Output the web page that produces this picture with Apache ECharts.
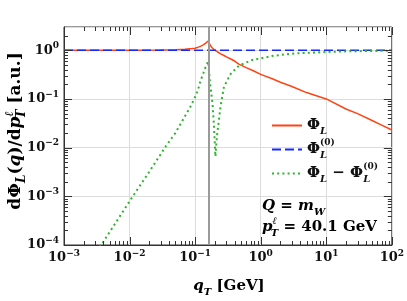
<!DOCTYPE html>
<html>
<head>
<meta charset="utf-8">
<script src="https://cdn.jsdelivr.net/npm/echarts@6/dist/echarts.min.js"></script>
<style>html,body{margin:0;padding:0;background:#fff}#c{width:407px;height:301px}</style>
</head>
<body>
<div id="c"></div>
<script>
// ---- data ----
const qL   = [0.001, 0.01, 0.03, 0.05, 0.07, 0.09, 0.1, 0.115, 0.125, 0.135, 0.145, 0.152, 0.158, 0.163, 0.17, 0.18, 0.19, 0.2, 0.22, 0.25, 0.275, 0.3, 0.35, 0.4, 0.465, 0.6, 0.8, 1.0, 1.5, 2, 3, 5, 10, 20, 30, 50, 70, 100];
const phiL = [1.0, 1.001, 1.008, 1.02, 1.045, 1.08, 1.1, 1.17, 1.23, 1.3, 1.4, 1.47, 1.55, 1.42, 1.27, 1.14, 1.06, 1.0, 0.92, 0.83, 0.78, 0.73, 0.66, 0.6, 0.52, 0.44, 0.37, 0.32, 0.26, 0.22, 0.18, 0.135, 0.1, 0.062, 0.05, 0.036, 0.029, 0.023];
const q0   = [0.001, 100];
const phi0 = [1, 1];
const qD   = [0.0035, 0.0037, 0.0112, 0.02, 0.036, 0.05, 0.068, 0.085, 0.097, 0.11, 0.122, 0.135, 0.145, 0.158, 0.169, 0.184, 0.194, 0.204, 0.215, 0.244, 0.275, 0.35, 0.465, 0.6, 0.74, 1.0, 1.48, 2, 3.3, 5, 8.5, 15, 27, 50, 100];
const diff = [0.00009, 0.0001, 0.001, 0.0032, 0.0108, 0.02, 0.041, 0.07, 0.1, 0.15, 0.244, 0.35, 0.46, 0.59, 0.21, 0.081, 0.027, 0.0066, 0.017, 0.07, 0.178, 0.33, 0.48, 0.56, 0.63, 0.68, 0.76, 0.8, 0.86, 0.88, 0.91, 0.94, 0.955, 0.965, 0.977];
const qMark = 0.158;
const xRange = [1e-3, 100];
const yRange = [1e-4, 3];
const xTicks = [];
for (let n = -3; n <= 1; n++) for (let k = 1; k <= 9; k++) xTicks.push(k * Math.pow(10, n));
xTicks.push(100);
const yTicks = [];
for (let n = -4; n <= 0; n++) for (let k = 1; k <= 9; k++) { const v = k * Math.pow(10, n); if (v < 3) yTicks.push(v); }
const names = ['\u03a6_L', '\u03a6_L^(0)', '\u03a6_L \u2212 \u03a6_L^(0)'];

const F = 'DejaVu Serif';
const C = '#111';
const tickRich = {
  n: {fontFamily: F, fontWeight: 'bold', fontSize: 13, lineHeight: 18, color: C},
  e: {fontFamily: F, fontWeight: 'bold', fontSize: 9, lineHeight: 10, verticalAlign: 'top', color: C}
};
function isDecade(v) { const l = Math.log10(v); return Math.abs(l - Math.round(l)) < 1e-9; }
function powLabel(v) {
  if (!isDecade(v)) return '';
  const e = Math.round(Math.log10(v));
  return '{n|10}{e|' + (e < 0 ? '\u2212' + (-e) : e) + '}';
}
function mkRich(s) {
  const b = {fontFamily: F, fontWeight: 'bold', color: C};
  return {
    r: Object.assign({fontSize: s, lineHeight: s + 7}, b),
    i: Object.assign({fontStyle: 'italic', fontSize: s, lineHeight: s + 7}, b),
    sub: Object.assign({fontStyle: 'italic', fontSize: Math.round(s * 0.68), lineHeight: 12, verticalAlign: 'bottom'}, b),
    subs: Object.assign({fontStyle: 'italic', fontSize: Math.round(s * 0.68), lineHeight: 12, verticalAlign: 'bottom', padding: [0, 0, 0, -Math.round(s * 0.4)]}, b),
    sup: Object.assign({fontStyle: 'italic', fontSize: Math.round(s * 0.68), lineHeight: 12, verticalAlign: 'top'}, b),
    supr: Object.assign({fontSize: Math.round(s * 0.6), lineHeight: 12, verticalAlign: 'top', padding: [0, 0, 0, -7]}, b)
  };
}
const textRich = mkRich(15);
const titleRich = mkRich(17);
const legendText = {};
legendText[names[0]] = '{r|\u03a6}{sub|L}';
legendText[names[1]] = '{r|\u03a6}{sub|L}{supr|(0)}';
legendText[names[2]] = '{r|\u03a6}{sub|L}{r| \u2212 \u03a6}{sub|L}{supr|(0)}';

const texts = [
  {type: 'text', x: 16, y: 131, rotation: Math.PI / 2,
   style: {text: '{r|d\u03a6}{sub|L}{r|(}{i|q}{r|)/d}{i|p}{sup|\u2113}{subs|T}{r| [a.u.]}', rich: titleRich, align: 'center', verticalAlign: 'middle'}},
  {type: 'text', x: 229, y: 286,
   style: {text: '{i|q}{sub|T}{r| [GeV]}', rich: textRich, align: 'center', verticalAlign: 'middle'}},
  {type: 'text', x: 262, y: 206,
   style: {text: '{i|Q}{r| = }{i|m}{sub|W}', rich: textRich, align: 'left', verticalAlign: 'middle'}},
  {type: 'text', x: 262, y: 227,
   style: {text: '{i|p}{sup|\u2113}{subs|T}{r| = 40.1 GeV}', rich: textRich, align: 'left', verticalAlign: 'middle'}}
];

const chart = echarts.init(document.getElementById('c'));
chart.setOption({
  animation: false,
  backgroundColor: '#fff',
  grid: {left: 64, right: 14, top: 27, bottom: 56, show: true, borderColor: '#333', borderWidth: 1, backgroundColor: 'transparent'},
  xAxis: [{
    type: 'log', min: xRange[0], max: xRange[1], position: 'bottom',
    axisLine: {show: true, lineStyle: {color: '#333', width: 1}},
    axisTick: {show: false},
    axisLabel: {show: true, formatter: powLabel, rich: tickRich, margin: 4},
    splitLine: {show: true, lineStyle: {color: '#dcdcdc', width: 1}}
  }],
  yAxis: [{
    type: 'log', min: yRange[0], max: yRange[1], position: 'left',
    axisLine: {show: true, lineStyle: {color: '#333', width: 1}},
    axisTick: {show: false},
    axisLabel: {show: true, formatter: powLabel, rich: tickRich, margin: 5, showMaxLabel: false},
    splitLine: {show: true, lineStyle: {color: '#dcdcdc', width: 1}}
  }],
  legend: {
    data: names, orient: 'vertical', left: 266, top: 113, itemWidth: 30, itemHeight: 12, itemGap: 2,
    selectedMode: false, itemStyle: {opacity: 0},
    formatter: n => legendText[n],
    textStyle: {rich: textRich}
  },
  graphic: texts,
  series: [
    {name: names[0], type: 'line', showSymbol: false, symbol: 'none',
     lineStyle: {color: '#ff4314', width: 1.5}, itemStyle: {color: '#ff4314'},
     data: qL.map((q, i) => [q, phiL[i]]),
     markLine: {silent: true, symbol: 'none', label: {show: false}, animation: false,
       lineStyle: {color: '#9a9a9a', width: 2, type: 'solid'}, data: [{xAxis: qMark}]}},
    {name: names[1], type: 'line', showSymbol: false, symbol: 'none',
     lineStyle: {color: '#1428ff', width: 1.6, type: [9, 4]}, itemStyle: {color: '#1428ff'},
     data: q0.map((q, i) => [q, phi0[i]])},
    {name: names[2], type: 'line', showSymbol: false, symbol: 'none',
     lineStyle: {color: '#2cb52c', width: 2, type: [2, 3.2]}, itemStyle: {color: '#2cb52c'},
     data: qD.map((q, i) => [q, diff[i]])}
  ]
});

// tick marks on all four sides, positioned through the axes' own scales
const px = v => chart.convertToPixel({xAxisIndex: 0}, v);
const py = v => chart.convertToPixel({yAxisIndex: 0}, v);
const xL = px(xRange[0]), xR = px(xRange[1]);
const yB = py(yRange[0]), yT = py(yRange[1]);
const tickEls = [];
const st = {stroke: '#333', lineWidth: 1};
xTicks.forEach(v => {
  const x = Math.round(px(v)) + 0.5;
  const len = isDecade(v) ? 8 : 4;
  tickEls.push({type: 'line', z: 50, silent: true, shape: {x1: x, y1: yB, x2: x, y2: yB - len}, style: st});
  tickEls.push({type: 'line', z: 50, silent: true, shape: {x1: x, y1: yT, x2: x, y2: yT + len}, style: st});
});
yTicks.forEach(v => {
  const y = Math.round(py(v)) + 0.5;
  const len = isDecade(v) ? 8 : 4;
  tickEls.push({type: 'line', z: 50, silent: true, shape: {x1: xL, y1: y, x2: xL + len, y2: y}, style: st});
  tickEls.push({type: 'line', z: 50, silent: true, shape: {x1: xR, y1: y, x2: xR - len, y2: y}, style: st});
});
chart.setOption({graphic: texts.concat(tickEls)});
</script>
</body>
</html>
